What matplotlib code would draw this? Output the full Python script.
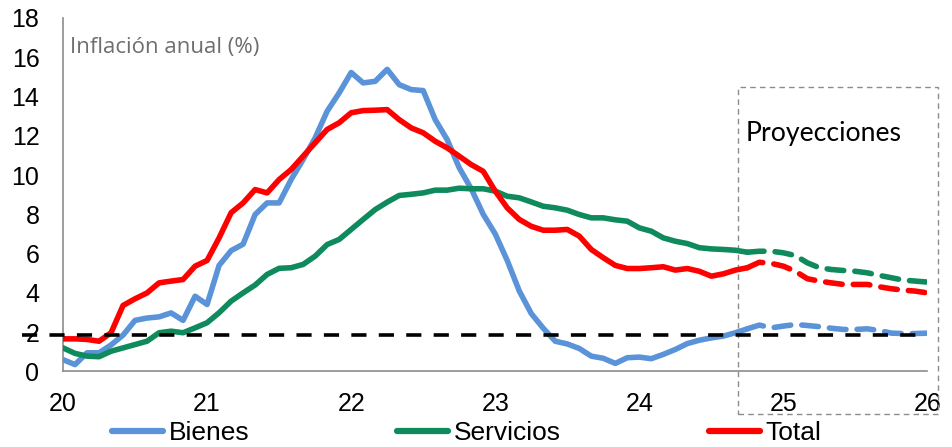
import numpy as np
import matplotlib
matplotlib.use("Agg")
import matplotlib.pyplot as plt
from matplotlib.patches import Rectangle
from matplotlib.lines import Line2D

# Inflación anual por componente, mensual ene-2020 a ene-2026
anio_inicio = 20
ultimo_dato = 57  # índice del último mes observado (desde aquí, proyección)

bienes = [0.6, 0.35, 0.95, 0.95, 1.35, 1.85, 2.6, 2.72, 2.78, 2.98, 2.6, 3.83,
          3.41, 5.4, 6.15, 6.48, 7.99, 8.58, 8.58, 9.77, 10.79, 11.89, 13.25, 14.18,
          15.22, 14.69, 14.77, 15.38, 14.6, 14.35, 14.3, 12.82, 11.8, 10.37, 9.3, 8.0,
          7.0, 5.65, 4.1, 2.95, 2.2, 1.54, 1.4, 1.17, 0.78, 0.67, 0.41, 0.7,
          0.73, 0.65, 0.87, 1.12, 1.42, 1.59, 1.71, 1.8, 1.97, 2.17, 2.36, 2.22,
          2.31, 2.39, 2.34, 2.28, 2.2, 2.14, 2.14, 2.17, 2.08, 1.95, 1.93, 1.93,
          1.95]
servicios = [1.2, 0.92, 0.78, 0.75, 1.03, 1.2, 1.37, 1.54, 1.97, 2.05, 1.97, 2.22,
             2.48, 2.99, 3.58, 4.0, 4.4, 4.94, 5.25, 5.28, 5.45, 5.87, 6.46, 6.72,
             7.23, 7.74, 8.24, 8.62, 8.96, 9.02, 9.09, 9.23, 9.23, 9.33, 9.3, 9.3,
             9.18, 8.92, 8.84, 8.63, 8.41, 8.33, 8.21, 7.99, 7.82, 7.82, 7.72, 7.65,
             7.31, 7.14, 6.8, 6.63, 6.51, 6.3, 6.24, 6.21, 6.17, 6.07, 6.12, 6.12,
             6.04, 5.9, 5.53, 5.28, 5.19, 5.14, 5.1, 5.02, 4.89, 4.77, 4.65, 4.6,
             4.55]
total = [1.66, 1.66, 1.63, 1.54, 1.97, 3.36, 3.7, 4.0, 4.51, 4.6, 4.68, 5.36,
         5.65, 6.8, 8.08, 8.58, 9.26, 9.09, 9.77, 10.28, 10.96, 11.64, 12.32, 12.66,
         13.17, 13.28, 13.3, 13.33, 12.82, 12.4, 12.15, 11.72, 11.38, 10.96, 10.53, 10.19,
         9.18, 8.33, 7.74, 7.39, 7.19, 7.19, 7.23, 6.89, 6.21, 5.79, 5.4, 5.24,
         5.24, 5.28, 5.33, 5.16, 5.24, 5.1, 4.85, 4.97, 5.16, 5.28, 5.56, 5.5,
         5.36, 5.1, 4.72, 4.6, 4.51, 4.43, 4.43, 4.43, 4.31, 4.21, 4.14, 4.09,
         4.0]
meta = 1.85
anios = [20, 21, 22, 23, 24, 25, 26]

series = [("Bienes", bienes, "#5A93D8"),
          ("Servicios", servicios, "#0E8A5C"),
          ("Total", total, "#FF0000")]

x = anio_inicio + np.arange(len(bienes)) / 12

fig = plt.figure(figsize=(9.52, 4.47), dpi=100)
ax = fig.add_axes([0.0662, 0.169, 0.908, 0.791])

k = ultimo_dato
for nombre, vals, color in series:
    v = np.array(vals)
    ax.plot(x[:k + 1], v[:k + 1], color=color, lw=4, solid_joinstyle="round",
            solid_capstyle="round", zorder=3)
    ax.plot(x[k:], v[k:], color=color, lw=4, dashes=(3.0, 2.0),
            dash_capstyle="round", zorder=3)

# línea de meta
ax.plot([19.715, 25.95], [meta, meta], color="black", lw=2.6,
        dashes=(4.2, 3.4), zorder=4, clip_on=False)

# recuadro de proyecciones
ax.add_patch(Rectangle((24.6875, -2.19), 26.076 - 24.6875, 14.5 + 2.19,
                       fill=False, ec="#8C8C8C", lw=1.0, ls=(0, (4, 3)),
                       clip_on=False, zorder=2))
ax.text(24.74, 12.1, "Proyecciones", fontsize=19.2, family="Lato",
        va="center", ha="left", color="black")
ax.text(20.05, 16.5, "Inflación anual (%)", fontsize=16, family="Open Sans",
        va="center", ha="left", color="#6E6E6E")

ax.set_xlim(20, 26)
ax.set_ylim(0, 18)
ax.set_xticks(anios)
ax.set_xticklabels([str(a) for a in anios])
ax.set_yticks(range(0, 19, 2))
for s in ["top", "right"]:
    ax.spines[s].set_visible(False)
for s in ["left", "bottom"]:
    ax.spines[s].set_color("#8C8C8C")
    ax.spines[s].set_linewidth(1.2)
ax.tick_params(axis="both", length=0, labelsize=18)
ax.tick_params(axis="y", pad=17)
ax.tick_params(axis="x", pad=15)
for lab in ax.get_xticklabels() + ax.get_yticklabels():
    lab.set_family("Liberation Sans")

handles = [Line2D([], [], color=c, lw=4.5, solid_capstyle="round") for _, _, c in series]
fig.legend(handles, [n for n, _, _ in series], loc="center", ncol=3,
           bbox_to_anchor=(0.49, 0.031), frameon=False,
           prop={"family": "Liberation Sans", "size": 19},
           handlelength=1.95, handletextpad=0.2, columnspacing=5.6,
           borderaxespad=0, borderpad=0)

fig.savefig("out.png", dpi=100)
